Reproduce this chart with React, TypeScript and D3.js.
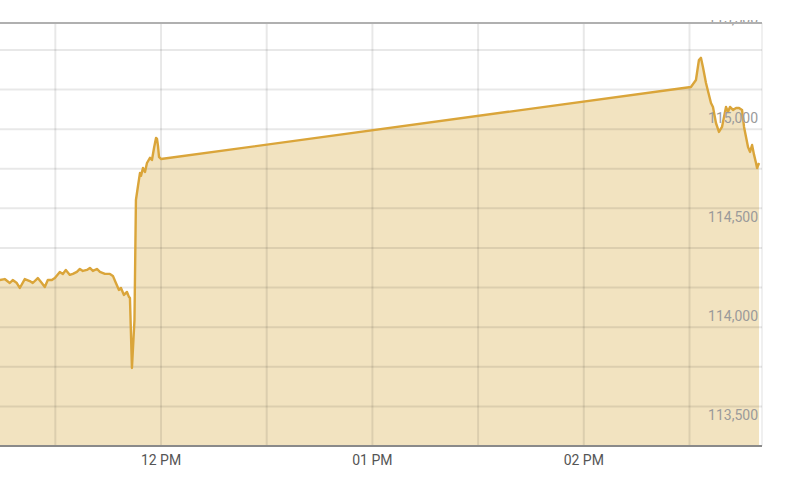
import React from 'react';
import * as d3 from 'd3';

// readings: time of day and index level
const times = [
  "11:14:13", "11:15:38", "11:17:04", "11:17:55", "11:19:04", "11:19:55", "11:21:20", "11:22:45",
  "11:23:36", "11:25:02", "11:26:10", "11:27:01", "11:27:52", "11:29:01", "11:29:52", "11:31:17",
  "11:32:08", "11:32:59", "11:34:08", "11:34:59", "11:36:07", "11:36:58", "11:37:49", "11:38:58",
  "11:39:49", "11:40:40", "11:41:48", "11:42:40", "11:44:05", "11:45:30", "11:46:21", "11:47:12",
  "11:48:04", "11:48:38", "11:49:29", "11:50:20", "11:50:54", "11:51:11", "11:51:45", "11:52:28",
  "11:52:53", "11:53:28", "11:54:02", "11:54:19", "11:54:53", "11:55:27", "11:56:01", "11:56:52",
  "11:57:26", "11:58:01", "11:58:35", "11:58:52", "11:59:09", "11:59:26", "12:00:00",
  "14:30:25", "14:31:50", "14:32:41", "14:33:15", "14:33:49", "14:34:41", "14:36:06", "14:36:40",
  "14:37:31", "14:38:22", "14:39:14", "14:39:48", "14:40:22", "14:40:56", "14:41:30", "14:42:21",
  "14:43:13", "14:44:04", "14:44:55", "14:45:29", "14:46:37", "14:47:11", "14:47:46", "14:48:20",
  "14:48:53", "14:49:11", "14:49:45"
];
const values = [
  114238, 114243, 114223, 114238, 114223, 114198, 114243, 114233,
  114223, 114248, 114223, 114203, 114238, 114238, 114248, 114279,
  114269, 114289, 114264, 114269, 114279, 114294, 114284, 114289,
  114299, 114284, 114294, 114279, 114269, 114269, 114259, 114223,
  114188, 114198, 114163, 114178, 114153, 114147, 113794, 114035,
  114642, 114713, 114779, 114764, 114804, 114784, 114829, 114855,
  114844, 114905, 114956, 114951, 114915, 114860, 114849,
  115213, 115248, 115349, 115360, 115314, 115233, 115132, 115112,
  115031, 114986, 115011, 115062, 115112, 115087, 115112, 115097,
  115107, 115107, 115097, 115011, 114910, 114885, 114920, 114870,
  114829, 114804, 114829
];

const timeDomain = ["11:14:18", "14:50:35"];
const gridTimes = ["11:30", "12:00", "12:30", "13:00", "13:30", "14:00", "14:30"];
const xTickTimes = ["12:00", "13:00", "14:00"];
const xTickLabels = ["12 PM", "01 PM", "02 PM"];
const gridValues = [113600, 113800, 114000, 114200, 114400, 114600, 114800, 115000, 115200, 115400];
const yTickValues = [113500, 114000, 114500, 115000, 115500];

const parseT = (s: string) => {
  const [h, m, sec] = s.split(':').map(Number);
  return new Date(2024, 0, 5, h, m, sec || 0);
};

export default function App() {
  const left = 0, right = 762, top = 23, bottom = 446;
  const x = d3.scaleTime()
    .domain(timeDomain.map(parseT))
    .range([left, right]);
  const y = d3.scaleLinear()
    .domain([113400, 115536])
    .range([bottom, top]);

  const pts = times.map((t, i) => ({ t: parseT(t), v: values[i] }));
  const line = d3.line<any>().x(d => x(d.t)).y(d => y(d.v));
  const area = d3.area<any>().x(d => x(d.t)).y0(bottom).y1(d => y(d.v));
  const fmt = d3.format(',');

  return (
    <svg width={800} height={480} style={{ position: 'absolute', left: 0, top: 0, background: '#fff' }}
      fontFamily="Roboto, 'Noto Sans', sans-serif">
      <defs>
        <clipPath id="plot">
          <rect x={left} y={top} width={right - left} height={bottom - top} />
        </clipPath>
        <clipPath id="toplabel">
          <rect x={0} y={20} width={800} height={460} />
        </clipPath>
      </defs>

      <g clipPath="url(#plot)">
        <path d={area(pts) || ''} fill="#f2e3c0" />
      </g>

      {gridValues.map(v => (
        <line key={v} x1={left} x2={right} y1={y(v)} y2={y(v)} stroke="#000" strokeOpacity={0.09} strokeWidth={2} />
      ))}
      {gridTimes.map(t => (
        <line key={t} x1={x(parseT(t))} x2={x(parseT(t))} y1={top} y2={bottom} stroke="#000" strokeOpacity={0.09} strokeWidth={2} />
      ))}
      <line x1={right} x2={right} y1={top} y2={bottom} stroke="#000" strokeOpacity={0.08} strokeWidth={1.5} />

      <g clipPath="url(#plot)">
        <path d={line(pts) || ''} fill="none" stroke="#daa53a" strokeWidth={2.4} strokeLinejoin="round" />
      </g>

      <g clipPath="url(#toplabel)">
        {yTickValues.map(v => (
          <text key={v} x={758} y={y(v) - 6} textAnchor="end" fontSize={14} fill="#9a9a9a">{fmt(v)}</text>
        ))}
      </g>

      <line x1={left} x2={right} y1={top} y2={top} stroke="#b0b0b0" strokeWidth={2} />
      <line x1={left} x2={right} y1={bottom} y2={bottom} stroke="#8a8a8a" strokeWidth={2} />

      {xTickTimes.map((t, i) => (
        <text key={t} x={x(parseT(t))} y={465} textAnchor="middle" fontSize={14} fill="#555">{xTickLabels[i]}</text>
      ))}
    </svg>
  );
}
